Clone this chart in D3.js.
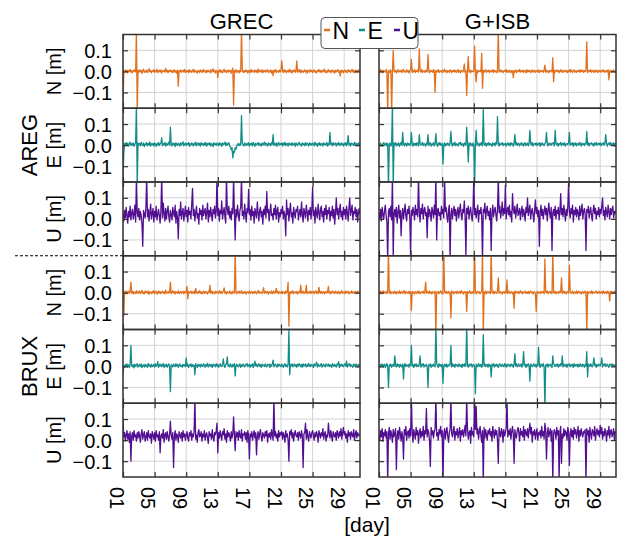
<!DOCTYPE html>
<html>
<head>
<meta charset="utf-8">
<script src="https://cdn.jsdelivr.net/npm/d3@7"></script>
<style>
  body { margin: 0; background: #fff; }
  svg { display: block; font-family: "Liberation Sans", Arial, sans-serif; }
</style>
</head>
<body>
<svg id="chart" width="618" height="538"></svg>
<script>
// position residuals in mm, one sample every 0.1 day starting at day 1
// (each line of 20 values covers two days)
const dayStart = 1, dayStep = 0.1;

const aregGrecN = [
  -170, 2, -5, 7, -3, 6, -8, 4, -1, 9, -4, 3, -7, 5, 0, 8, -3, 200, -200, 6,
  -4, 7, -2, 5, -9, 3, 10, -5, 1, -3, 6, -6, 4, 12, -2, 5, -7, 3, 0, 8,
  -5, 4, -2, 9, -6, 2, 6, -3, 7, -8, 3, 0, 5, -4, 14, -2, 6, -7, 4, -1,
  7, -3, 5, -6, 2, 8, -4, 3, -9, 6, -70, 4, -2, 7, -5, 1, 6, -3, 9, -6,
  3, -1, 5, -7, 8, -2, 4, -5, 2, 10, -4, 6, -3, 1, -8, 5, 3, -6, 7, -2,
  4, -5, 9, -1, 2, -7, 6, -3, 5, 0, -6, 8, -4, 3, 12, -2, 5, -8, 4, 1,
  -30, 6, -2, 8, -5, 3, -7, 4, 10, -3, 5, -6, 2, 7, -4, 1, 6, -9, 3, 15,
  -160, 5, -3, 8, -6, 2, 4, -7, 6, -2, 200, 9, -5, 3, -4, 7, -1, 5, -8, 4,
  2, -6, 9, -3, 5, 0, -5, 7, -2, 4, -7, 11, -3, 6, 1, -4, 8, -6, 3, -1,
  6, -4, 3, 8, -5, 2, -3, 7, -8, 4, -20, 5, -2, 9, -6, 3, 1, -5, 7, -3,
  4, 50, 3, -6, 8, -2, 5, -7, 2, 6, -4, 10, -3, 4, -8, 5, 0, 7, -5, 3,
  50, -4, 6, -2, 9, -7, 3, 5, -5, 1, 7, -3, 4, -9, 6, 2, -4, 8, -1, 5,
  -6, 3, 7, -4, 2, -8, 5, 0, 9, -3, 4, -6, 6, -2, 3, 11, -5, 2, -7, 4,
  8, -3, 5, -6, 1, 7, -4, 3, -8, 6, -2, 4, 9, -5, 2, -22, 6, -3, 5, -7,
  3, 7, -4, 2, -6, 8, -1, 5, -5, 3, 10, -3, 4, -7, 6, -2, 5, -4, 7, 1,
  -3
];
const aregGrecE = [
  -150, -40, 8, -3, 12, 1, 9, -5, 6, 14, -2, 7, 0, 11, -6, 5, 9, 200, -200, 10,
  2, 8, -4, 13, 5, -1, 10, -7, 6, 3, 12, -3, 8, 0, 15, -5, 7, 2, 9, -4,
  11, 4, -6, 8, 1, 13, -2, 6, 10, 35, -3, 7, 2, 12, -5, 9, 0, 6, 14, -1,
  85, 5, -4, 10, 2, 8, -7, 12, 3, -2, 9, 6, -5, 11, 1, 7, 16, -3, 5, 10,
  -2, 8, 4, 13, -6, 7, 0, 11, 5, -4, 9, 2, 14, -3, 6, 10, -1, 8, -5, 12,
  3, 7, -2, 10, 0, 13, -5, 6, 9, 1, 11, -4, 8, 4, -7, 12, 2, 7, -1, 10,
  5, -3, 12, 1, 8, -6, 10, 3, 6, 14, -2, 9, 0, 7, 11, -5, -8, -22, -12, -60,
  -28, -35, -12, -20, -2, 2, 8, -3, 6, 0, 140, 9, 3, -4, 11, 5, -2, 8, 1, 12,
  -5, 7, 2, 10, -3, 13, 4, -6, 9, 1, 6, 12, -2, 8, 3, -4, 10, 0, 7, 15,
  -1, 9, 5, -5, 11, 2, 7, -3, 12, 4, 50, -2, 8, 1, 10, -6, 6, 13, 0, 7,
  3, 11, -4, 9, 1, 14, -2, 6, 8, -5, 10, 3, 7, -1, 12, 0, 5, 9, -6, 11,
  4, -2, 8, 13, 1, 6, -5, 10, 3, 7, -3, 12, 0, 9, 5, -4, 11, 2, 8, -1,
  10, 6, -3, 14, 2, 7, -6, 9, 1, 12, -2, 5, 8, -4, 11, 3, 6, 0, 13, -5,
  7, 2, 60, 4, 9, -3, 12, 1, 6, 10, -5, 8, 3, 13, -1, 7, 0, 11, 4, -4,
  9, 2, 12, -3, 6, 45, 1, 8, -5, 10, 4, 7, -2, 13, 0, 9, 5, -4, 11, 3,
  6
];
const aregGrecU = [
  25, -10, 40, 5, 55, 15, -20, 35, 10, 60, -5, 30, 45, 0, 20, 65, -15, 200, 30, 10,
  50, -5, 35, 15, -25, -130, 40, 20, 5, 55, 200, 10, 45, -10, 30, 70, 0, 25, 50, -15,
  35, 10, 60, -5, 20, 45, 15, -20, 40, 200, 5, 75, 25, -10, 50, 0, 35, 60, 10, -15,
  40, 20, -5, 55, 30, 10, 65, -20, 35, 5, -95, 45, 15, 80, 0, 30, 50, -10, 25, 60,
  10, 40, -15, 55, 20, 35, 0, 70, 145, 15, 45, -10, 30, 60, 5, 25, -25, 50, 20, 40,
  -5, 65, 15, 35, 50, 0, 30, 75, -15, 40, 10, 55, 20, -10, 45, 25, 60, 5, 35, 200,
  15, 50, -10, 40, 25, 85, 0, 30, 55, 10, -20, 200, 45, 20, 60, 5, 35, -5, 50, 25,
  200, 30, -100, 45, 10, 65, 20, -10, 40, 55, 200, 15, 35, 0, 70, 25, -15, 50, 30, 140,
  20, 45, -5, 60, 15, 35, -20, 50, 25, 5, 80, 30, -10, 40, 55, 10, 35, -25, 45, 20,
  60, 5, 130, 30, 45, -10, 35, 70, 15, 25, -5, 50, 20, 65, 0, 40, 55, -15, 30, 10,
  45, 25, 60, 0, 35, 15, -80, 90, 20, 50, -10, 40, 75, 10, 30, -20, 55, 25, 5, 45,
  35, 60, -5, 25, 45, 10, 80, 20, -15, 50, 30, 5, 65, 35, -10, 40, 20, 55, 0, 45,
  150, 15, 40, -20, 55, 25, 5, 70, 30, -5, 45, 60, 10, 35, -15, 50, 20, 65, 0, 40,
  25, 55, -10, 35, 15, 60, 5, 45, -25, 30, 100, 20, 50, 0, 40, 70, 10, 35, -5, 55,
  20, 45, 0, 60, 30, -10, 50, 100, 15, 40, 65, -5, 35, 25, 55, 10, 45, -15, 30, 50,
  20
];
const aregIsbN = [
  3, -5, 8, -2, 6, -7, 4, 1, -4, 9, -3, -200, 5, -6, 2, 7, -200, -4, 100, 6,
  -3, 5, -7, 2, 8, -4, 3, -1, 6, -6, 4, 10, -3, 1, -5, 7, -2, 5, -8, 3,
  6, 57, -5, 4, -2, 8, -6, 3, 0, 7, -4, 107, 5, -3, 9, -6, 2, 4, -5, 1,
  7, -3, 80, 4, -7, 6, -1, 3, -5, 9, -2, -100, 5, -4, 2, 8, -6, 3, 1, -3,
  6, -5, 4, 10, -2, 3, -7, 5, 0, -4, 8, 2, -6, 4, -1, 7, -3, 5, -5, 2,
  9, -4, 3, -6, 6, 1, -3, 7, 35, -5, 4, -115, 2, 70, -3, 6, -7, 4, 1, -2,
  5, 120, -4, -50, 7, -6, 3, 0, 5, -3, 85, -80, 6, -4, 2, 8, -5, 3, -1, 6,
  -6, 4, 2, -3, 9, -5, 5, -2, 3, -7, 6, 200, -4, 2, 7, -3, 4, -6, 1, 5,
  -2, 8, -5, 3, -4, 6, 0, -7, 5, 2, -30, 4, -3, 7, -6, 1, 5, -2, 9, -4,
  3, -1, 6, -5, 4, 2, -7, 8, -3, 5, -2, 4, -6, 3, 7, -4, 1, 6, -5, 2,
  4, -3, 7, -6, 2, 5, -1, 3, -4, 8, 30, -5, 6, -2, 3, -7, 4, 1, 5, -3,
  65, -50, 6, -4, 3, 7, -2, 5, -6, 1, 8, -3, 4, -5, 2, 6, -1, 3, -7, 5,
  -2, 6, -4, 9, 1, -5, 3, 7, -3, 2, -6, 5, 0, 4, -4, 8, -2, 3, 6, -5,
  4, -1, 7, 140, -6, 3, 5, -2, 8, -4, 1, 6, -5, 3, -3, 7, 2, -6, 4, 0,
  5, -4, 3, 7, -2, 6, -5, 1, 4, -3, 8, -40, 2, 5, -6, 3, -1, 7, -4, 2,
  4
];
const aregIsbE = [
  4, -3, 9, 1, -6, 7, 12, -2, 5, 10, -4, 8, -200, 3, 11, -5, 6, 200, -200, 9,
  2, 12, -4, 7, 0, 10, -6, 5, 13, -1, 60, 4, -3, 9, 6, -5, 11, 2, 8, -2,
  7, 60, 3, -5, 10, 1, 8, -3, 12, 5, -4, 50, 9, 0, 6, 13, -2, 7, 4, -6,
  10, 3, 50, -2, 8, 11, -5, 6, 1, 12, -3, 7, 55, 4, -6, 9, 2, 13, -1, 5,
  8, -90, 3, 11, -4, 7, 0, 10, 5, -3, 12, 65, 6, -5, 9, 2, 14, -2, 7, 1,
  -4, 10, 6, 13, -1, 8, 3, -6, 11, 5, 0, 85, 7, -80, 12, -3, 9, 4, -5, 10,
  2, -200, 8, 70, -2, 11, 5, -4, 9, 1, 13, -3, 170, 6, 0, 10, -5, 8, 3, 12,
  -1, 7, 4, -6, 11, 2, 9, -3, 13, 5, 135, 8, -4, 10, 1, 6, 12, -2, 7, 3,
  9, -5, 6, 11, 0, 8, -3, 12, 4, 7, -6, 10, 50, 2, 13, -1, 6, 9, -4, 5,
  11, 1, 8, -5, 7, 12, -2, 4, 10, -3, 6, 70, 9, 0, 13, -4, 5, 8, 2, 11,
  -3, 7, 4, 12, -6, 9, 1, 10, 3, -2, 8, 13, 60, 5, -4, 11, 2, 7, -1, 9,
  6, 12, -3, 70, 8, 1, 10, -5, 7, 4, 13, -2, 6, 9, 0, 11, -4, 5, 8, 3,
  10, 60, -1, 7, 4, 12, -6, 9, 2, 11, -3, 6, 8, 0, 13, 5, -5, 10, 3, 7,
  -2, 9, 5, 65, 1, 12, -4, 8, 6, 11, 0, 7, -5, 10, 3, 13, -1, 6, 9, 2,
  11, -3, 7, 4, 12, 0, 8, 50, 9, -5, 6, 10, 2, 13, -2, 7, 4, 11, -4, 8,
  5
];
const aregIsbU = [
  30, 5, 45, -10, 55, 20, 0, 40, 65, 15, -15, -200, 35, 50, 10, 60, -5, 200, -180, 25,
  45, 10, 55, -20, 30, 65, 5, 40, -80, 20, 50, 0, 35, 70, 15, -10, 45, 25, 60, 5,
  -170, 40, 15, 55, 30, -5, 65, 20, 45, 10, 200, 35, -15, 50, 25, 70, 0, 40, 55, 15,
  30, -90, 60, 10, 45, 25, -10, 55, 35, 5, 65, 20, 200, -100, 40, 50, 15, 30, -5, 60,
  25, 45, 5, 200, 35, 55, 10, -15, 40, 65, -200, 20, 50, 0, 35, 60, 15, 45, -10, 30,
  55, 5, 40, 70, 20, -5, 45, 30, 85, 10, -170, 50, 25, 60, 0, 35, 55, 15, -10, 45,
  200, 20, 50, 5, 35, 65, -15, 40, 25, 55, 10, -200, 45, 30, 75, 0, 40, 60, 15, 35,
  -5, 50, -150, 25, 65, 10, 40, 55, 20, -10, 45, 200, 30, 60, 5, 35, 80, 15, 50, 25,
  160, 0, 40, 55, 20, 65, 10, 35, -15, 120, 45, 25, 60, 5, 40, 70, 15, 30, 50, -5,
  35, 60, 10, 45, 25, -10, 55, 30, 100, 15, 40, 65, 0, 35, 50, 20, -15, 45, 90, 25,
  55, 10, 40, -130, 30, 65, 15, 45, 0, 35, 60, 20, 50, -10, 40, 75, 25, 5, 55, -150,
  30, 45, 15, 60, 0, 40, 25, 55, -5, 35, 120, 20, 50, 10, 65, 30, -10, 45, 15, 60,
  170, 35, 5, 50, 25, 65, -15, 40, 20, 55, 10, 45, 30, -5, 60, 15, 40, 70, 0, 35,
  50, 20, -150, 45, 30, 60, 5, 35, 55, 15, -10, 40, 65, 25, 50, 0, 35, 20, 55, 10,
  45, 25, 60, 100, 15, 40, -5, 55, 30, 10, 65, 35, 0, 50, 20, 45, 60, 5, 35, 25,
  40
];
const bruxGrecN = [
  180, -110, 5, -3, 8, -6, 2, 7, -4, 3, 50, -2, 6, -7, 4, 1, -5, 9, -3, 5,
  -1, 7, -5, 3, 10, -4, 2, -6, 8, 0, 5, -3, 7, -8, 4, 2, -5, 6, -2, 9,
  -4, 3, 6, -7, 1, 8, -3, 5, -5, 2, 7, -2, 4, -6, 12, -1, 3, -4, 6, 0,
  50, -5, 3, 8, -2, 6, -7, 4, 1, -3, 9, -5, 2, 6, -4, 3, 7, -6, 5, -1,
  4, 30, -30, 6, -3, 2, 8, -5, 3, -2, 7, -6, 20, 1, -4, 5, -1, 9, -3, 4,
  -6, 2, 7, -4, 5, -1, 3, -7, 6, 2, 35, -3, 8, -5, 4, 0, -6, 7, -2, 5,
  3, -4, 9, -1, 6, -5, 2, 7, 22, -3, 4, -7, 5, 1, -2, 8, -4, 3, -6, 6,
  2, -3, 200, 5, -6, 4, -1, 7, -4, 3, 9, -5, 2, -3, 6, 0, -7, 5, 3, -2,
  8, -4, 1, 6, -5, 3, -2, 7, 0, -6, 4, 10, -3, 5, -1, 2, -5, 8, 24, -4,
  3, 6, -2, 5, -7, 4, 1, -3, 8, -5, 2, 7, -4, 3, 20, -1, 6, -6, 4, 2,
  -3, 7, -5, 4, 2, -6, 8, -1, 5, 50, -160, 3, -4, 6, -2, 9, -5, 2, 4, -3,
  6, -7, 3, 5, -2, 35, -4, 1, 7, -5, 3, -1, 35, -6, 4, 2, -3, 8, -4, 5,
  0, 6, -5, 3, 9, -2, 4, -6, 25, 1, -3, 7, -4, 2, 5, -7, 3, 6, -2, 4,
  30, -3, 5, -6, 2, 8, -1, 4, -5, 7, 0, -4, 6, 3, -7, 5, -2, 9, -3, 1,
  4, -5, 7, -2, 3, 6, -6, 2, -1, 8, -4, 5, 1, -3, 6, -5, 3, 7, -2, 4,
  -1
];
const bruxGrecE = [
  -40, 4, -5, 9, 1, 12, -3, 7, -6, 10, 100, 3, -2, 8, -7, 11, 0, 6, 13, -4,
  5, 9, -1, 12, -6, 3, 8, -3, 10, 1, 6, -5, 14, 2, 7, -4, 11, -1, 4, 9,
  -3, 12, 0, 7, 22, -5, 9, 3, 11, -2, 6, 13, -6, 8, 1, 10, -4, 5, 12, 0,
  -120, 8, 4, -3, 11, 6, -1, 13, 2, 9, -5, 7, 12, 0, 5, -4, 10, 3, 8, -2,
  40, 1, 11, -6, 7, 4, 12, -2, 9, 0, 6, -40, 13, 3, -5, 10, 2, 8, -3, 11,
  5, -1, 12, 7, -4, 9, 2, 14, -3, 6, 10, 0, 8, -6, 11, 4, 7, -2, 13, 1,
  9, -5, 6, 12, 3, -1, 10, 35, 4, -6, 8, 11, 45, 2, 7, -3, 12, 5, -4, 9,
  1, 13, -45, 6, 10, 3, -2, 8, 12, -5, 7, 0, 11, 4, -3, 9, 6, 14, -1, 5,
  10, -4, 7, 2, 12, -6, 9, 25, 3, 11, -2, 6, 13, 0, 8, -5, 10, 4, 7, -1,
  12, 3, -3, 9, 6, 11, -6, 8, 1, 13, 30, -2, 7, 10, 4, -4, 12, 2, 9, 5,
  -1, 11, 6, -5, 8, 13, 0, 7, -3, 10, 175, -40, 9, 4, 12, -2, 6, 11, 1, 8,
  -4, 10, 3, 13, 6, -1, 9, -5, 12, 2, 7, 11, -3, 8, 0, 14, 5, -2, 10, 4,
  7, -6, 12, 2, 9, 20, -3, 11, 5, 0, 8, 13, -4, 6, 10, 1, -2, 12, 7, 3,
  11, -1, 8, 4, -5, 13, 6, 0, 10, 3, -3, 12, 7, 22, -6, 9, 2, 11, 5, -2,
  8, 12, 1, 25, -4, 10, 6, 13, -1, 7, 3, -5, 11, 8, 0, 12, 4, -3, 9, 6,
  2
];
const bruxGrecU = [
  100, 15, 35, -5, 25, 45, 5, 30, -10, 40, -100, 20, 35, 0, 45, 15, 25, -5, 35, 10,
  40, 20, -10, 30, 50, 5, 25, 40, -5, 15, 35, 0, 45, 20, 10, 30, -15, 40, 25, 5,
  35, -5, 45, 15, 25, 0, 40, -60, 20, 30, 10, 50, -10, 25, 35, 5, 40, 15, -5, 30,
  90, 20, 5, 35, -130, 15, 45, 0, 30, 20, -10, 40, 25, 10, 35, -5, 45, 15, 30, 0,
  25, 40, 10, -5, 35, 20, 45, 0, 30, 15, 40, 200, 5, 25, -10, 35, 50, 15, 20, 40,
  -5, 30, 15, 45, 0, 25, 35, 10, -15, 40, 20, 30, 5, 50, 15, -5, 35, 25, 45, 80,
  -60, 35, 10, 45, 20, 0, 40, 25, 55, 5, 30, -10, 45, 15, 35, 20, -5, 40, 10, 30,
  110, 25, -50, 40, 15, 35, 0, 45, 20, 10, 50, -5, 30, 25, 40, 5, 35, -10, 45, 20,
  -90, 30, 15, 40, 0, 25, 45, 10, 35, -70, 20, 40, 5, 30, 50, 15, -5, 35, 25, 10,
  40, 20, 45, -10, 30, 15, 35, 5, 50, 25, 0, 200, 20, 40, 10, 30, -5, 45, 15, 35,
  25, 40, 5, 35, 20, -10, 45, 15, 30, 0, -100, 40, 25, 50, 10, 35, -5, 30, 45, 20,
  15, 35, 0, 40, 25, 10, 45, 20, -130, 30, 35, 80, 5, 50, 15, -5, 40, 25, 10, 35,
  45, 20, 0, 35, 15, 40, 25, -10, 45, 30, 10, 35, 20, 55, 5, 30, 40, -5, 25, 15,
  80, 35, 10, 45, 20, -5, 40, 25, 15, 35, 0, 45, 30, 10, 40, 20, 55, 5, 35, 60,
  25, 40, 10, 30, -10, 45, 20, 35, 5, 40, 25, 15, 50, 0, 30, 45, 10, 35, 20, 25,
  30
];
const bruxIsbN = [
  5, -3, 7, -6, 2, 9, -4, 3, -1, 6, -5, 4, 200, -2, 8, -6, 3, 1, -4, 7,
  -2, 5, -7, 4, 2, -3, 8, -5, 1, 6, -4, 3, 10, -6, 5, -1, 2, -3, 7, -5,
  4, -85, 6, -2, 3, -7, 5, 1, -4, 8, -3, 6, -6, 2, 4, -1, 7, -5, 3, 50,
  -4, 6, 2, -5, 8, -2, 3, -6, 5, 1, -3, 7, -200, 4, -1, 6, -5, 2, 9, -3,
  3, -6, 200, 5, -2, 7, -4, 1, 6, -5, 3, -120, 8, -1, 4, -6, 2, 5, -3, 7,
  -5, 2, 6, -4, 9, -1, 3, -7, 5, 0, 4, -90, 6, -3, 2, 8, -5, 3, -2, 6,
  -4, 200, 5, -6, 3, 7, -2, 4, -5, 1, 6, 200, -200, 3, -3, 8, -6, 2, 5, -1,
  4, -5, 200, 3, -2, 7, -6, 5, 1, -4, 8, 70, -3, 6, -1, 2, -7, 4, 5, -3,
  6, -2, 60, -5, 3, 7, -4, 1, 5, -6, 2, -75, 8, -3, 4, -1, 6, -5, 3, 9,
  -2, 5, -6, 3, 1, 7, -4, 2, -3, 6, -5, 4, 8, -1, 3, -7, 5, 2, -4, -90,
  6, -3, 4, 1, -5, 7, -2, 3, 5, -6, 160, 4, -1, 8, -4, 2, 6, -3, 5, -5,
  200, 3, -2, 6, -6, 4, 1, -4, 7, -1, 5, 70, -5, 2, 8, -3, 4, -6, 3, 6,
  -2, 130, 5, -4, 1, 7, -6, 3, 2, -3, 8, -5, 4, 6, -1, 3, -7, 5, 2, -4,
  7, -1, 4, -200, 6, -5, 2, 3, -3, 8, -6, 5, 1, -2, 4, 7, -5, 3, -1, 6,
  -4, 2, 5, -6, 8, -3, 1, 4, -5, 7, -2, 3, -40, 6, -1, 5, -4, 2, 7, -3,
  3
];
const bruxIsbE = [
  4, -5, 9, 1, 12, -3, 7, 10, -6, 5, 13, -1, -100, 8, 3, 11, -4, 6, 9, 0,
  50, 7, -3, 12, 2, 8, -5, 10, 4, -2, 11, -60, 6, 13, -1, 7, 3, 9, -4, 12,
  5, 100, 1, 8, -6, 10, 3, 12, -2, 7, 0, 11, 50, -4, 9, 5, 13, -3, 6, 2,
  10, -1, -100, 8, 4, 12, -5, 7, 1, 11, 3, -3, 200, 9, 6, -6, 13, 2, 8, -2,
  11, -80, 5, 9, 0, 12, -4, 7, 3, 10, 6, 100, -3, 13, 1, 8, -5, 11, 4, 7,
  -2, 12, 6, 0, 9, -6, 10, 3, 13, -1, 7, 200, 4, -4, 11, 2, 8, 12, -3, 6,
  9, 1, -130, 11, 5, -2, 13, 7, 0, 10, -5, 8, 150, 3, 12, -1, 6, 9, -4, 11,
  2, 7, -50, 10, 4, 13, -3, 8, 1, 11, 6, -6, 9, 12, 3, 0, 10, 5, -2, 13,
  7, -4, 11, 2, 9, 6, -1, 12, 4, 8, -5, 10, 60, 3, 13, -2, 7, 11, 0, 5,
  12, -3, 8, 70, 6, 10, -6, 9, 2, 13, 4, -70, 11, 7, -1, 5, 12, 1, 8, -4,
  10, 3, 90, 6, -5, 11, 8, 0, 13, -2, -200, 7, 4, 12, -3, 9, 5, 10, 1, -6,
  50, 11, 6, -1, 9, 3, 12, -4, 8, 2, 13, 5, 50, -3, 10, 7, 0, 11, -5, 9,
  6, 12, -2, 8, 3, 10, -6, 13, 1, 7, 4, 11, -3, 9, 0, 12, 5, -1, 10, 6,
  -4, 9, 2, 70, -50, 11, 7, 0, 13, 3, -2, 10, 40, 5, 12, -5, 8, 1, 11, 6,
  3, 12, 40, -3, 9, 6, 13, -1, 7, 10, 2, -5, 11, 8, 4, 12, -2, 9, 5, 0,
  7
];
const bruxIsbU = [
  25, 0, 45, 15, 55, -5, 35, 20, 50, 10, 40, -200, 30, 60, 5, 45, 25, -10, 50, 15,
  35, 55, -140, 20, 45, 5, 60, 30, -5, 40, 15, -90, 50, 25, 65, 0, 35, 45, 10, 55,
  20, 200, 40, -10, 50, 30, 5, 60, 25, 45, -15, 35, 55, 10, 40, 20, 65, 0, 45, 30,
  150, 15, 50, 35, -5, -125, 60, 25, 45, 10, 40, 55, 200, 20, 35, 0, 50, 30, 65, 15,
  45, -200, 25, 55, 5, 40, 60, 20, -10, 35, 50, 200, 30, 15, 45, 65, 0, 40, 25, 55,
  10, 35, 60, -5, 45, 25, 50, 15, 40, 70, 20, 200, 55, 5, 35, 45, -15, 60, 25, 40,
  15, 200, 50, 160, 30, 55, 5, 40, 65, 20, -10, 45, -200, 60, 10, 50, 25, 0, 45, 30,
  55, 20, 40, -5, 65, 35, 10, 50, 25, 45, 0, -110, 60, 30, 15, 55, 40, -10, 50, 20,
  35, 60, 200, 15, 45, 25, 55, 5, 40, 65, 30, -110, 50, 20, 10, 45, 60, 35, -5, 55,
  25, 40, 15, 65, 0, 50, 35, 20, 55, 10, 45, 80, 30, 60, -10, 40, 25, 50, 5, 35,
  55, 0, 35, 25, 45, 10, 65, 20, 40, 5, 80, 50, -90, 30, 60, 15, 35, 55, -5, 45,
  -200, 30, 50, 35, 5, 60, 25, 45, -200, 40, 65, -110, 30, 10, 55, 20, 45, 35, 0, 60,
  40, -120, 25, 55, 15, 45, 5, 60, 30, 50, 10, 35, 65, -5, 45, 20, 55, 30, 15, 40,
  35, 50, -200, 55, 25, 45, -10, 60, 30, 5, 50, 40, 20, 65, 0, 35, 55, 25, 45, 15,
  70, 30, 60, 5, 40, 20, 55, 35, -5, 45, 25, 65, 10, 40, 50, 15, 30, 55, 0, 40,
  35
];

const stations = ['AREG', 'BRUX'];
const components = ['N', 'E', 'U'];
const solutions = ['GREC', 'G+ISB'];
const colors = {N: '#e2711f', E: '#138d89', U: '#520f92'};
const xTicks = [1, 5, 9, 13, 17, 21, 25, 29];
const yTicks = [-0.1, 0, 0.1];

// rows: AREG N,E,U then BRUX N,E,U ; columns: GREC, G+ISB
const rows = [
  [aregGrecN, aregIsbN],
  [aregGrecE, aregIsbE],
  [aregGrecU, aregIsbU],
  [bruxGrecN, bruxIsbN],
  [bruxGrecE, bruxIsbE],
  [bruxGrecU, bruxIsbU],
];

const svg = d3.select('#chart');
const font = '"Liberation Sans", Arial, sans-serif';
const colX = [[123, 360], [379, 616]];
const top0 = 34.5, rowH = 73.75;
const xs = colX.map(r => d3.scaleLinear().domain([1, 31]).range(r));
const yRow = r => d3.scaleLinear().domain([-0.175, 0.175])
  .range([top0 + (r + 1) * rowH, top0 + r * rowH]);

const defs = svg.append('defs');

rows.forEach((pair, r) => {
  const comp = components[r % 3];
  const y = yRow(r);
  pair.forEach((vals, c) => {
    const x = xs[c];
    const [x0, x1] = x.range();
    const [yb, yt] = y.range();
    const g = svg.append('g');
    const clipId = `clip-${r}-${c}`;
    defs.append('clipPath').attr('id', clipId)
      .append('rect').attr('x', x0).attr('y', yt).attr('width', x1 - x0).attr('height', yb - yt);

    // grid
    g.selectAll('.vg').data(xTicks).join('line')
      .attr('x1', d => x(d)).attr('x2', d => x(d)).attr('y1', yt).attr('y2', yb)
      .attr('stroke', '#d2d2d2').attr('stroke-width', 1);
    g.selectAll('.hg').data(yTicks).join('line')
      .attr('x1', x0).attr('x2', x1).attr('y1', d => y(d)).attr('y2', d => y(d))
      .attr('stroke', '#d2d2d2').attr('stroke-width', 1);

    // series
    const line = d3.line()
      .x((d, i) => x(dayStart + i * dayStep))
      .y(d => y(d / 1000));
    g.append('path').datum(vals)
      .attr('clip-path', `url(#${clipId})`)
      .attr('d', line)
      .attr('fill', 'none')
      .attr('stroke', colors[comp])
      .attr('stroke-width', 1.3)
      .attr('stroke-linejoin', 'round');

    // inward ticks on all four sides
    const axes = [
      [d3.axisBottom(x), `translate(0,${yb})`, xTicks],
      [d3.axisTop(x), `translate(0,${yt})`, xTicks],
      [d3.axisLeft(y), `translate(${x0},0)`, yTicks],
      [d3.axisRight(y), `translate(${x1},0)`, yTicks],
    ];
    axes.forEach(([ax, tr, tv], k) => {
      const showX = k === 0 && r === 5;
      const showY = k === 2 && c === 0;
      ax.tickValues(tv).tickSize(-5).tickPadding(showY ? 11 : 10)
        .tickFormat(showX ? d3.format('02d') : showY ? d3.format('.1f') : () => '');
      const a = g.append('g').attr('transform', tr).call(ax);
      a.select('.domain').remove();
      a.selectAll('line').attr('stroke', '#333').attr('stroke-width', 1.2);
      a.attr('font-family', font).attr('font-size', 20);
      a.selectAll('text').attr('fill', '#000');
      if (showX) {
        a.selectAll('text')
          .attr('y', 0).attr('dy', null)
          .attr('transform', 'translate(-7,10) rotate(90)')
          .attr('text-anchor', 'start')
          .attr('dominant-baseline', 'central');
      }
      if (showY) {
        a.selectAll('text').attr('dy', '0.35em');
      }
    });

    g.append('rect')
      .attr('x', x0).attr('y', yt).attr('width', x1 - x0).attr('height', yb - yt)
      .attr('fill', 'none').attr('stroke', '#333').attr('stroke-width', 1.5);
  });

  // component label
  const yc = top0 + (r + 0.5) * rowH;
  svg.append('text')
    .attr('transform', `translate(54,${yc}) rotate(-90)`)
    .attr('text-anchor', 'middle').attr('dominant-baseline', 'central')
    .attr('font-size', 20).text(`${comp} [m]`);
});

// station names, centred on the E row of each block
stations.forEach((s, i) => {
  const yc = top0 + (i * 3 + 1.5) * rowH;
  svg.append('text')
    .attr('transform', `translate(29,${yc}) rotate(-90)`)
    .attr('text-anchor', 'middle').attr('dominant-baseline', 'central')
    .attr('font-size', 22).text(s);
});

// separator between stations
svg.append('line')
  .attr('x1', 15).attr('x2', 123).attr('y1', top0 + 3 * rowH).attr('y2', top0 + 3 * rowH)
  .attr('stroke', '#000').attr('stroke-width', 1).attr('stroke-dasharray', '3,2');

// column titles
solutions.forEach((s, c) => {
  svg.append('text')
    .attr('x', (colX[c][0] + colX[c][1]) / 2).attr('y', 29)
    .attr('text-anchor', 'middle').attr('font-size', 22).text(s);
});

// x label
svg.append('text')
  .attr('x', 367).attr('y', 532)
  .attr('text-anchor', 'middle').attr('font-size', 21).text('[day]');

// legend
const lg = svg.append('g');
lg.append('rect')
  .attr('x', 321).attr('y', 17.5).attr('width', 97).attr('height', 31).attr('rx', 4)
  .attr('fill', '#fff').attr('stroke', '#555').attr('stroke-width', 1);
const legX = [324, 359, 394];
components.forEach((k, i) => {
  lg.append('line')
    .attr('x1', legX[i]).attr('x2', legX[i] + 6).attr('y1', 30).attr('y2', 30)
    .attr('stroke', colors[k]).attr('stroke-width', 2.5);
  lg.append('text')
    .attr('x', legX[i] + 8.5).attr('y', 38.5)
    .attr('font-size', 23).text(k);
});
</script>
</body>
</html>
